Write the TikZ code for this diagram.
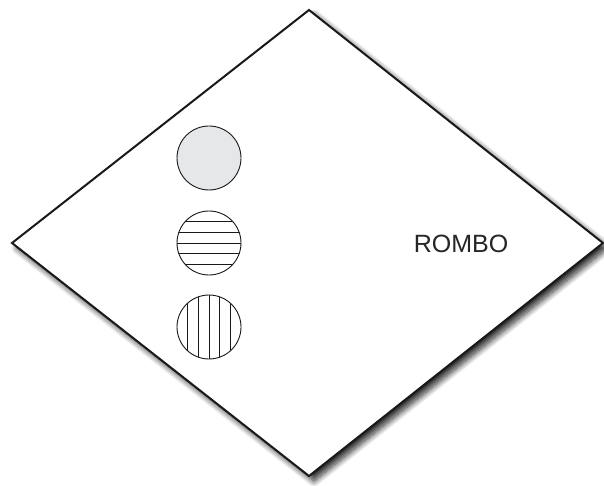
\documentclass[tikz,border=0pt]{standalone}
\usepackage{fontspec}
\setmainfont{Liberation Sans}
\usetikzlibrary{shadows.blur}
\definecolor{lightfill}{HTML}{E6E7E8}
\begin{document}
\begin{tikzpicture}[x=1pt,y=-1pt,
  rombo/.style={draw=black!90,line width=2pt,fill=white,line join=miter,
    blur shadow={shadow xshift=5pt,shadow yshift=-5pt,shadow blur radius=6pt,shadow opacity=85,shadow blur steps=12}},
  disc/.style={draw=black!90,line width=0.9pt},
  hatch/.style={line width=0.9pt,draw=black!90}]
\useasboundingbox (0,0) rectangle (604,486);
\coordinate (T) at (309,10);
\coordinate (L) at (12,243);
\coordinate (R) at (603,243);
\coordinate (B) at (309,476);
\path[rombo] (T) -- (R) -- (B) -- (L) -- cycle;
\node[circle,minimum size=64pt,inner sep=0pt,disc,fill=lightfill] (c1) at (209,158) {};
\node[circle,minimum size=64pt,inner sep=0pt] (c2) at (209,243) {};
\node[circle,minimum size=64pt,inner sep=0pt] (c3) at (209,327) {};
\begin{scope}
  \clip (c2) circle (32pt);
  \foreach \dy in {-21.5,-10.75,0,10.75,21.5}
    \draw[hatch] (177,243+\dy) -- (241,243+\dy);
\end{scope}
\draw[disc] (c2) circle (32pt);
\begin{scope}
  \clip (c3) circle (32pt);
  \foreach \dx in {-21.5,-10.75,0,10.75,21.5}
    \draw[hatch] (209+\dx,295) -- (209+\dx,359);
\end{scope}
\draw[disc] (c3) circle (32pt);
\node[font=\fontsize{25}{30}\selectfont,text=black!85] (lbl) at (461,244) {ROMBO};
\end{tikzpicture}
\end{document}
